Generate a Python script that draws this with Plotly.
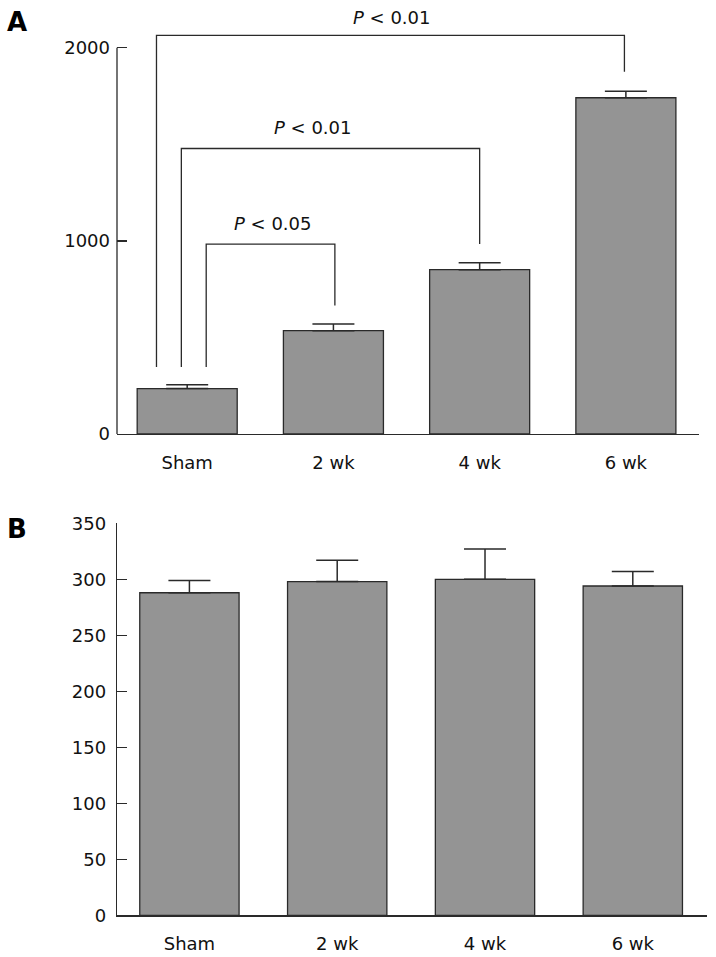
import plotly.graph_objects as go

# ---------------- data ----------------
groups = ["Sham", "2 wk", "4 wk", "6 wk"]

a_values = [235, 535, 851, 1741]
a_errors = [20, 35, 35, 33]
a_ticks = [0, 1000, 2000]

b_values = [288, 298, 300, 294]
b_errors = [11, 19, 27, 13]
b_ticks = [0, 50, 100, 150, 200, 250, 300, 350]

# significance brackets (panel A): left/right x positions (category index units)
br_left_x = [0.13, -0.04, -0.21]
br_right_x = [1.01, 2.0, 2.99]
br_top_y = [983, 1478, 2064]
br_left_bottom = [347, 347, 347]
br_right_bottom = [665, 984, 1876]
br_label_x = [0.58, 0.86, 1.40]
br_labels = ["<i>P</i> < 0.05", "<i>P</i> < 0.01", "<i>P</i> < 0.01"]

# ---------------- style ----------------
W, H = 716, 957
FONT = "DejaVu Sans"
BAR = "#949494"
EDGE = "#2a2a2a"
label_shift = [9, 10, 6]
xpos = list(range(len(groups)))

def px_x(p):
    return p / W

def px_y(p):
    return 1 - p / H

a_ymax = 2200
a_range_px = (434 - 47.7) / 2000  # pixel per unit

fig = go.Figure()

fig.add_trace(go.Bar(
    x=xpos, y=a_values, width=0.684,
    marker=dict(color=BAR, line=dict(color=EDGE, width=1.3)),
    error_y=dict(type="data", array=a_errors, symmetric=False, arrayminus=[0]*4,
                 color=EDGE, thickness=1.5, width=21),
    xaxis="x", yaxis="y", showlegend=False, hoverinfo="skip",
))
fig.add_trace(go.Bar(
    x=xpos, y=b_values, width=0.672,
    marker=dict(color=BAR, line=dict(color=EDGE, width=1.3)),
    error_y=dict(type="data", array=b_errors, symmetric=False, arrayminus=[0]*4,
                 color=EDGE, thickness=1.5, width=21),
    xaxis="x2", yaxis="y2", showlegend=False, hoverinfo="skip",
))

tickfont = dict(family=FONT, size=18, color="#111")

fig.update_layout(
    template="none",
    width=W, height=H,
    margin=dict(l=0, r=0, t=0, b=0, pad=0),
    paper_bgcolor="white", plot_bgcolor="white",
    font=dict(family=FONT, size=18, color="#111"),
    xaxis=dict(domain=[px_x(117), px_x(699)], range=[-0.48, 3.5],
               tickmode="array", tickvals=xpos, ticktext=groups,
               showline=True, linecolor=EDGE, linewidth=1.3,
               ticks="", showgrid=False, zeroline=False, automargin=False,
               tickfont=tickfont, ticklabelstandoff=12, anchor="y"),
    yaxis=dict(domain=[px_y(434), px_y(434 - a_ymax * a_range_px)], range=[0, a_ymax],
               tickmode="array", tickvals=a_ticks,
               showline=False, ticks="inside", ticklen=10, tickwidth=1.3, tickcolor=EDGE,
               showgrid=False, zeroline=False, tickfont=tickfont, automargin=False,
               ticklabelstandoff=6, anchor="x"),
    xaxis2=dict(domain=[px_x(117), px_x(706.7)], range=[-0.49, 3.5],
                tickmode="array", tickvals=xpos, ticktext=groups,
                showline=True, linecolor=EDGE, linewidth=1.3,
                ticks="", showgrid=False, zeroline=False, automargin=False,
                tickfont=tickfont, ticklabelstandoff=12, anchor="y2"),
    yaxis2=dict(domain=[px_y(915.3), px_y(523.3)], range=[0, 350],
                tickmode="array", tickvals=b_ticks,
                showline=True, linecolor=EDGE, linewidth=1.3,
                ticks="inside", ticklen=10, tickwidth=1.3, tickcolor=EDGE,
                showgrid=False, zeroline=False, tickfont=tickfont, automargin=False,
                ticklabelstandoff=6, anchor="x2"),
)

# y-axis line of panel A (from 0 up to top tick only)
fig.add_shape(type="line", xref="x domain", yref="y", x0=0, x1=0,
              y0=a_ticks[0], y1=a_ticks[-1], line=dict(color=EDGE, width=1.3))

# brackets
for xl, xr, yt, ylb, yrb, lx, lab, sh in zip(br_left_x, br_right_x, br_top_y,
                                              br_left_bottom, br_right_bottom,
                                              br_label_x, br_labels, label_shift):
    fig.add_shape(type="path", xref="x", yref="y",
                  path=f"M {xl},{ylb} L {xl},{yt} L {xr},{yt} L {xr},{yrb}",
                  line=dict(color=EDGE, width=1.3))
    fig.add_annotation(x=lx, y=yt, xref="x", yref="y", text=lab, showarrow=False,
                       xanchor="center", yanchor="bottom", yshift=sh, borderpad=0,
                       font=dict(family=FONT, size=18, color="#111"))

# panel letters
fig.add_annotation(x=px_x(17), y=px_y(22), xref="paper", yref="paper", text="<b>A</b>",
                   showarrow=False, xanchor="center", yanchor="middle",
                   font=dict(family=FONT, size=26, color="#000"))
fig.add_annotation(x=px_x(17), y=px_y(529), xref="paper", yref="paper", text="<b>B</b>",
                   showarrow=False, xanchor="center", yanchor="middle",
                   font=dict(family=FONT, size=26, color="#000"))

fig.write_html("out.html",
               config={"displayModeBar": False, "staticPlot": True},
               post_script="document.body.style.margin='0';document.body.style.padding='0';")
